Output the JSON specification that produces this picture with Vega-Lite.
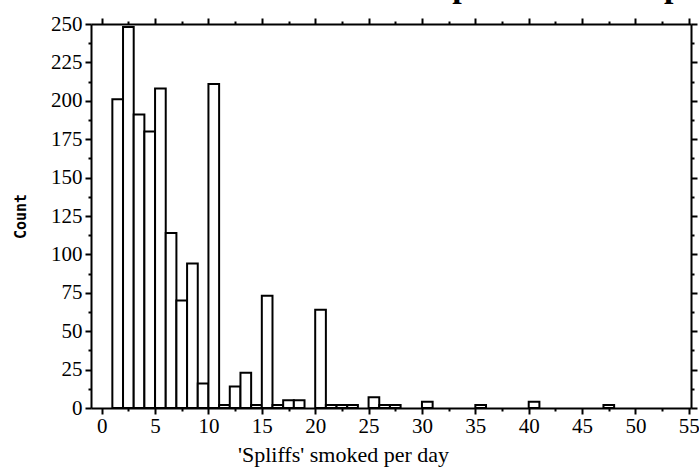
{
  "$schema": "https://vega.github.io/schema/vega-lite/v6.json",
  "width": 600,
  "height": 384,
  "autosize": {"type": "none"},
  "padding": {"left": 91, "top": 24, "right": 8, "bottom": 64},
  "background": "white",
  "config": {"view": {"stroke": null}},
  "title": {
    "text": "'Spliffs' smoked per day",
    "font": "Liberation Serif",
    "fontSize": 34,
    "fontWeight": "bold",
    "color": "black",
    "anchor": "start",
    "frame": "group",
    "baseline": "alphabetic",
    "offset": 4,
    "dx": 333,
    "dy": 22
  },
  "data": {
    "values": [
      {"bin_start": 1, "bin_end": 2, "count": 201},
      {"bin_start": 2, "bin_end": 3, "count": 248},
      {"bin_start": 3, "bin_end": 4, "count": 191},
      {"bin_start": 4, "bin_end": 5, "count": 180},
      {"bin_start": 5, "bin_end": 6, "count": 208},
      {"bin_start": 6, "bin_end": 7, "count": 114},
      {"bin_start": 7, "bin_end": 8, "count": 70},
      {"bin_start": 8, "bin_end": 9, "count": 94},
      {"bin_start": 9, "bin_end": 10, "count": 16},
      {"bin_start": 10, "bin_end": 11, "count": 211},
      {"bin_start": 11, "bin_end": 12, "count": 2},
      {"bin_start": 12, "bin_end": 13, "count": 14},
      {"bin_start": 13, "bin_end": 14, "count": 23},
      {"bin_start": 14, "bin_end": 15, "count": 2},
      {"bin_start": 15, "bin_end": 16, "count": 73},
      {"bin_start": 16, "bin_end": 17, "count": 2},
      {"bin_start": 17, "bin_end": 18, "count": 5},
      {"bin_start": 18, "bin_end": 19, "count": 5},
      {"bin_start": 20, "bin_end": 21, "count": 64},
      {"bin_start": 21, "bin_end": 22, "count": 2},
      {"bin_start": 22, "bin_end": 23, "count": 2},
      {"bin_start": 23, "bin_end": 24, "count": 2},
      {"bin_start": 25, "bin_end": 26, "count": 7},
      {"bin_start": 26, "bin_end": 27, "count": 2},
      {"bin_start": 27, "bin_end": 28, "count": 2},
      {"bin_start": 30, "bin_end": 31, "count": 4},
      {"bin_start": 35, "bin_end": 36, "count": 2},
      {"bin_start": 40, "bin_end": 41, "count": 4},
      {"bin_start": 47, "bin_end": 48, "count": 2}
    ]
  },
  "layer": [
    {
      "mark": {"type": "bar", "fill": "white", "stroke": "black", "strokeWidth": 2},
      "encoding": {
        "x": {
          "field": "bin_start",
          "type": "quantitative",
          "scale": {"domain": [-1, 55.2], "nice": false, "zero": false},
          "axis": {
            "orient": "bottom",
            "values": [0, 2.5, 5, 7.5, 10, 12.5, 15, 17.5, 20, 22.5, 25, 27.5, 30, 32.5, 35, 37.5, 40, 42.5, 45, 47.5, 50, 52.5, 55],
            "labelExpr": "datum.value % 5 === 0 ? datum.label : ''",
            "tickSize": {"condition": {"test": "datum.value % 5 === 0", "value": 6}, "value": 3},
            "tickColor": "black",
            "tickWidth": 2,
            "domainColor": "black",
            "domainWidth": 2,
            "grid": false,
            "labelFont": "Liberation Serif",
            "labelFontSize": 21,
            "labelColor": "black",
            "labelPadding": 1,
            "labelDx": -3,
            "labelFlush": false,
            "labelOverlap": false,
            "title": "'Spliffs' smoked per day",
            "titleFont": "Liberation Serif",
            "titleFontSize": 22,
            "titleFontWeight": "normal",
            "titleColor": "black",
            "titleAlign": "center",
            "titleBaseline": "alphabetic",
            "titleX": 252,
            "titleY": 53
          }
        },
        "x2": {"field": "bin_end"},
        "y": {
          "field": "count",
          "type": "quantitative",
          "scale": {"domain": [0, 250], "nice": false},
          "axis": {
            "orient": "left",
            "values": [0, 12.5, 25, 37.5, 50, 62.5, 75, 87.5, 100, 112.5, 125, 137.5, 150, 162.5, 175, 187.5, 200, 212.5, 225, 237.5, 250],
            "labelExpr": "datum.value % 25 === 0 ? datum.label : ''",
            "tickSize": {"condition": {"test": "datum.value % 25 === 0", "value": 6}, "value": 3},
            "tickColor": "black",
            "tickWidth": 2,
            "domainColor": "black",
            "domainWidth": 2,
            "grid": false,
            "labelFont": "Liberation Serif",
            "labelFontSize": 21,
            "labelColor": "black",
            "labelPadding": 3,
            "labelDy": -2,
            "labelFlush": false,
            "labelOverlap": false,
            "title": "Count",
            "titleFont": "DejaVu Sans Mono",
            "titleFontSize": 15,
            "titleFontWeight": "bold",
            "titleColor": "black",
            "titlePadding": 22
          }
        },
        "y2": {"datum": 0}
      }
    },
    {
      "mark": {"type": "bar", "opacity": 0},
      "encoding": {
        "x": {
          "field": "bin_start",
          "type": "quantitative",
          "scale": {"domain": [-1, 55.2], "nice": false, "zero": false},
          "axis": {
            "orient": "top",
            "values": [0, 2.5, 5, 7.5, 10, 12.5, 15, 17.5, 20, 22.5, 25, 27.5, 30, 32.5, 35, 37.5, 40, 42.5, 45, 47.5, 50, 52.5, 55],
            "labels": false,
            "tickSize": {"condition": {"test": "datum.value % 5 === 0", "value": 6}, "value": 3},
            "tickColor": "black",
            "tickWidth": 2,
            "domainColor": "black",
            "domainWidth": 2,
            "grid": false,
            "title": null
          }
        },
        "x2": {"field": "bin_end"},
        "y": {
          "field": "count",
          "type": "quantitative",
          "scale": {"domain": [0, 250], "nice": false},
          "axis": {
            "orient": "right",
            "values": [0, 12.5, 25, 37.5, 50, 62.5, 75, 87.5, 100, 112.5, 125, 137.5, 150, 162.5, 175, 187.5, 200, 212.5, 225, 237.5, 250],
            "labels": false,
            "tickSize": {"condition": {"test": "datum.value % 25 === 0", "value": 6}, "value": 3},
            "tickColor": "black",
            "tickWidth": 2,
            "domainColor": "black",
            "domainWidth": 2,
            "grid": false,
            "title": null
          }
        },
        "y2": {"datum": 0}
      }
    }
  ],
  "resolve": {"axis": {"x": "independent", "y": "independent"}}
}
